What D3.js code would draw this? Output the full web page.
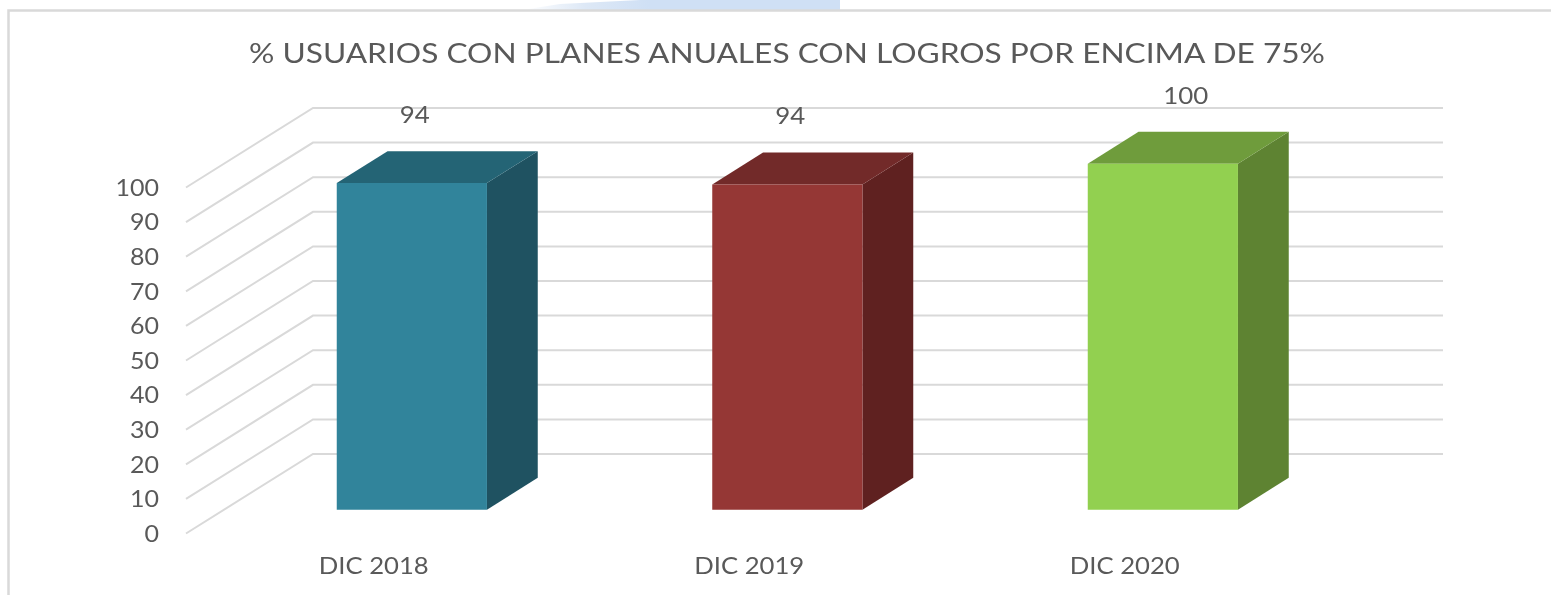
<!DOCTYPE html>
<html>
<head>
<meta charset="utf-8">
<script src="https://cdn.jsdelivr.net/npm/d3@7"></script>
<style>
  html, body { margin: 0; padding: 0; background: #fff; }
  svg { display: block; filter: blur(0.5px); }
  text { font-family: Lato, "Open Sans", sans-serif; fill: #595959; }
</style>
</head>
<body>
<svg id="chart" width="1551" height="595"></svg>
<script>
var categories = ["DIC 2018", "DIC 2019", "DIC 2020"];
var values = [94.4, 94, 100];
var faceColors = ["#31849b", "#953735", "#92d050"];
var topColors = ["#246475", "#722a29", "#6f9c3c"];
var sideColors = ["#1f5261", "#5f2120", "#5e8332"];
var yTicks = [0, 10, 20, 30, 40, 50, 60, 70, 80, 90, 100];
var chartTitle = "% USUARIOS CON PLANES ANUALES CON LOGROS POR ENCIMA DE 75%";

var svg = d3.select("#chart");

// oblique projection: the floor runs from the front edge back to the wall
var depthX = 127, depthY = -79.5;
var barFront = 0.3, barBack = 0.7;

var x = d3.scaleBand()
    .domain(categories)
    .range([186, 1312.5])
    .paddingInner(0.6)
    .paddingOuter(0.3);

var y = d3.scaleLinear()
    .domain([0, 100])
    .range([533.5, 187.5]);

function pt(px, py, depth) {
  return [px + depth * depthX, py + depth * depthY];
}
function poly(points) {
  return "M" + points.map(function(p) { return p.join(","); }).join("L") + "Z";
}

// frame of the slide behind the chart
var glow = svg.append("defs").append("linearGradient").attr("id", "strip");
glow.append("stop").attr("offset", "0").attr("stop-color", "#fff");
glow.append("stop").attr("offset", "0.2").attr("stop-color", "#dde8f6");
glow.append("stop").attr("offset", "0.4").attr("stop-color", "#cfe0f5");
glow.append("stop").attr("offset", "1").attr("stop-color", "#cfe0f5");
svg.append("path")
    .attr("d", "M522,10L560,4L640,0L840,0L840,10Z")
    .attr("fill", "url(#strip)");
svg.append("path")
    .attr("d", "M8.5,595V10.5H1551")
    .attr("fill", "none")
    .attr("stroke", "#d9d9d9")
    .attr("stroke-width", 2.5);

svg.append("text")
    .attr("x", 787)
    .attr("y", 63)
    .attr("text-anchor", "middle")
    .attr("font-size", 27)
    .attr("textLength", 1076)
    .attr("lengthAdjust", "spacingAndGlyphs")
    .text(chartTitle);

// gridlines: slanted along the side wall, then flat along the back wall
svg.append("g").selectAll("path")
    .data(yTicks)
    .enter().append("path")
    .attr("d", function(d) {
      var a = pt(186, y(d), 0), b = pt(186, y(d), 1), c = pt(1316, y(d), 1);
      return "M" + a + "L" + b + "L" + c;
    })
    .attr("fill", "none")
    .attr("stroke", "#d9d9d9")
    .attr("stroke-width", 2);

var axisY = d3.axisLeft(y).tickValues(yTicks).tickSize(0).tickPadding(0);
var axisG = svg.append("g")
    .attr("transform", "translate(159,0)")
    .call(axisY);
axisG.select(".domain").remove();
axisG.selectAll("text")
    .attr("font-size", 23)
    .attr("dy", "0.32em")
    .attr("transform", "translate(0,0.5)")
    .attr("textLength", function(d) { return String(d).length * 14.5; })
    .attr("lengthAdjust", "spacingAndGlyphs");

var axisX = d3.axisBottom(x).tickSize(0).tickPadding(0);
var axisXG = svg.append("g")
    .attr("transform", "translate(0,558)")
    .call(axisX);
axisXG.select(".domain").remove();
axisXG.selectAll("text")
    .attr("font-size", 23)
    .attr("dy", "0.71em")
    .attr("textLength", 110)
    .attr("lengthAdjust", "spacingAndGlyphs");

// bars, each one a front face, a top and a right side
var bars = svg.append("g").selectAll("g")
    .data(categories)
    .enter().append("g");

function corners(i) {
  var c = categories[i];
  var x0 = x(c), x1 = x(c) + x.bandwidth();
  return {
    x0: x0, x1: x1,
    y0: y(0) , y1: y(values[i])
  };
}

bars.append("path")
    .attr("fill", function(d, i) { return sideColors[i]; })
    .attr("d", function(d, i) {
      var k = corners(i);
      return poly([pt(k.x1, k.y1, barFront), pt(k.x1, k.y1, barBack), pt(k.x1, k.y0, barBack), pt(k.x1, k.y0, barFront)]);
    });
bars.append("path")
    .attr("fill", function(d, i) { return topColors[i]; })
    .attr("d", function(d, i) {
      var k = corners(i);
      return poly([pt(k.x0, k.y1, barFront), pt(k.x1, k.y1, barFront), pt(k.x1, k.y1, barBack), pt(k.x0, k.y1, barBack)]);
    });
bars.append("path")
    .attr("fill", function(d, i) { return faceColors[i]; })
    .attr("d", function(d, i) {
      var k = corners(i);
      return poly([pt(k.x0, k.y1, barFront), pt(k.x1, k.y1, barFront), pt(k.x1, k.y0, barFront), pt(k.x0, k.y0, barFront)]);
    });

// data labels sit above the bars, the third one was dragged to the right in the source
bars.append("text")
    .attr("text-anchor", "middle")
    .attr("font-size", 23)
    .attr("x", function(d, i) {
      return x(d) + x.bandwidth() / 2 + barFront * depthX + (i == 2 ? 23 : 3);
    })
    .attr("y", function(d, i) { return y(values[i]) + barFront * depthY - 60; })
    .attr("textLength", function(d, i) { return d3.format(".0f")(values[i]).length * 15; })
    .attr("lengthAdjust", "spacingAndGlyphs")
    .text(function(d, i) { return d3.format(".0f")(values[i]); });
</script>
</body>
</html>
